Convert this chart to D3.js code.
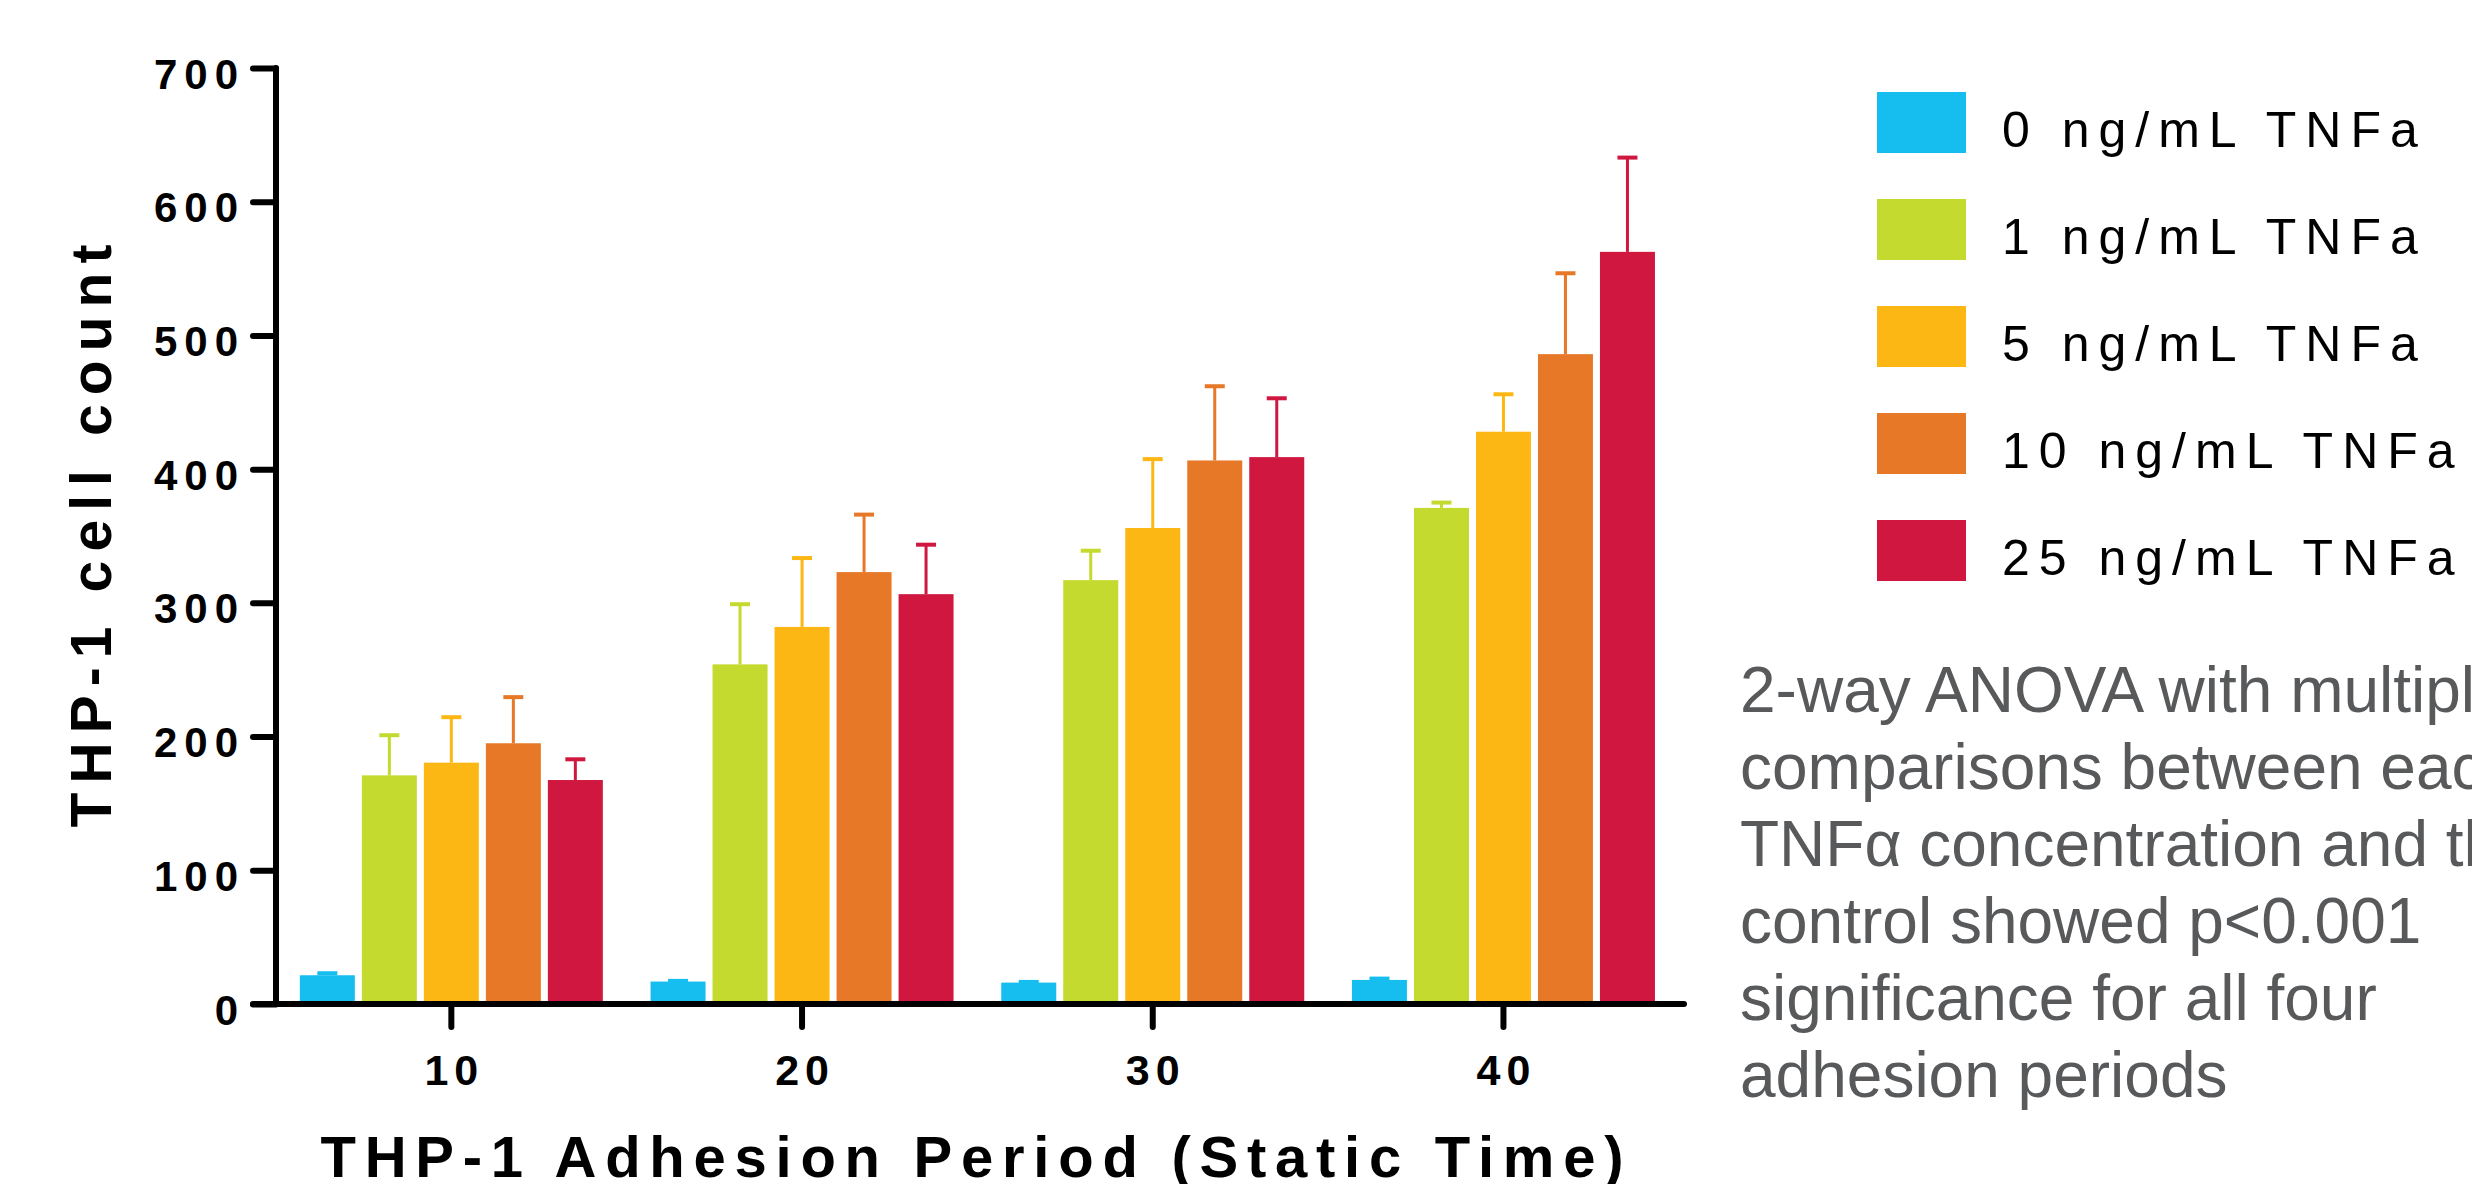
<!DOCTYPE html>
<html>
<head>
<meta charset="utf-8">
<script src="https://cdn.jsdelivr.net/npm/d3@7/dist/d3.min.js"></script>
<style>
  html, body { margin: 0; padding: 0; background: #ffffff; }
  svg { display: block; font-family: "Liberation Sans", Arial, Helvetica, sans-serif; }
</style>
</head>
<body>
<svg id="chart" width="2472" height="1184"></svg>
<script>
// Adhesion periods (x categories) and TNFa doses (series)
const periods = ["10", "20", "30", "40"];
const doses = ["0 ng/mL TNFa", "1 ng/mL TNFa", "5 ng/mL TNFa", "10 ng/mL TNFa", "25 ng/mL TNFa"];
const doseColors = ["#16bef0", "#c4da2e", "#fdb714", "#e67828", "#cf173f"];

// Mean THP-1 cell counts per dose, one value per adhesion period
const dose0 = [21.5, 16.8, 16, 18];
const dose1 = [171, 254, 317, 371];
const dose5 = [180.5, 282, 356, 428];
const dose10 = [195, 323, 406.5, 486];
const dose25 = [167.5, 306.5, 409, 562.5];

// Upper error bar lengths per dose
const err0 = [1.5, 0.5, 0.5, 1];
const err1 = [30, 45, 22, 4];
const err5 = [34, 51.5, 51.5, 28];
const err10 = [34.5, 43, 55.5, 60.5];
const err25 = [15.5, 37, 44, 70.5];

const yTicks = [0, 100, 200, 300, 400, 500, 600, 700];

const noteLines = [
  "2-way ANOVA with multiple",
  "comparisons between each",
  "TNF\u03b1 concentration and the",
  "control showed p<0.001",
  "significance for all four",
  "adhesion periods"
];

const means = [dose0, dose1, dose5, dose10, dose25];
const errs = [err0, err1, err5, err10, err25];

const rows = [];
periods.forEach((p, pi) => {
  doses.forEach((d, di) => {
    rows.push({ period: p, dose: d, color: doseColors[di], mean: means[di][pi], err: errs[di][pi] });
  });
});

const svg = d3.select("#chart");

const axisX0 = 276;
const y = d3.scaleLinear().domain([0, 700]).range([1004, 68]);
const x = d3.scaleBand().domain(periods).range([axisX0, axisX0 + 4 * 350.7]);
const xInner = d3.scaleBand().domain(doses).range([-151.5, 151.5]).paddingInner(0.113);

// Bars
const bars = svg.append("g");
bars.selectAll("rect")
  .data(rows)
  .join("rect")
  .attr("x", d => x(d.period) + x.bandwidth() / 2 + xInner(d.dose))
  .attr("width", xInner.bandwidth())
  .attr("y", d => y(d.mean))
  .attr("height", d => y(0) - y(d.mean))
  .attr("fill", d => d.color);

// Error bars (upper only)
const eb = svg.append("g");
const cx = d => x(d.period) + x.bandwidth() / 2 + xInner(d.dose) + xInner.bandwidth() / 2;
eb.selectAll("line.stem")
  .data(rows)
  .join("line")
  .attr("class", "stem")
  .attr("x1", cx).attr("x2", cx)
  .attr("y1", d => y(d.mean))
  .attr("y2", d => y(d.mean + d.err))
  .attr("stroke", d => d.color)
  .attr("stroke-width", 3);
eb.selectAll("line.cap")
  .data(rows)
  .join("line")
  .attr("class", "cap")
  .attr("x1", d => cx(d) - 10).attr("x2", d => cx(d) + 10)
  .attr("y1", d => y(d.mean + d.err))
  .attr("y2", d => y(d.mean + d.err))
  .attr("stroke", d => d.color)
  .attr("stroke-width", 4);

// Y axis
const yAxis = svg.append("g")
  .attr("transform", `translate(${axisX0},0)`)
  .call(d3.axisLeft(y).tickValues(yTicks).tickSize(23).tickSizeOuter(0).tickFormat(d => String(d)));
yAxis.select(".domain").remove();
yAxis.selectAll(".tick line").attr("stroke", "#000").attr("stroke-width", 6).attr("stroke-linecap", "round");
yAxis.selectAll(".tick text")
  .attr("x", -31)
  .attr("dy", 20)
  .attr("fill", "#000")
  .style("font-size", "42px")
  .style("font-weight", "bold")
  .style("letter-spacing", "7px")
  .style("font-family", "'Liberation Sans', Arial, sans-serif");
svg.append("line")
  .attr("x1", axisX0).attr("x2", axisX0)
  .attr("y1", y(0)).attr("y2", y(700))
  .attr("stroke", "#000").attr("stroke-width", 6).attr("stroke-linecap", "round");

// X axis
const xAxis = svg.append("g")
  .attr("transform", `translate(0,${y(0)})`)
  .call(d3.axisBottom(x).tickSize(23).tickSizeOuter(0));
xAxis.select(".domain").remove();
xAxis.selectAll(".tick line").attr("stroke", "#000").attr("stroke-width", 6).attr("stroke-linecap", "round");
xAxis.selectAll(".tick text")
  .attr("y", 81)
  .attr("dy", 0)
  .attr("dx", 3)
  .attr("fill", "#000")
  .style("font-size", "43px")
  .style("font-weight", "bold")
  .style("letter-spacing", "6px")
  .style("font-family", "'Liberation Sans', Arial, sans-serif");
svg.append("line")
  .attr("x1", axisX0 - 23).attr("x2", 1684)
  .attr("y1", y(0)).attr("y2", y(0))
  .attr("stroke", "#000").attr("stroke-width", 6).attr("stroke-linecap", "round");

// Axis titles
svg.append("text")
  .attr("transform", "translate(111,536) rotate(-90)")
  .attr("text-anchor", "middle")
  .attr("textLength", 583)
  .attr("lengthAdjust", "spacing")
  .style("font-size", "57px")
  .style("font-weight", "bold")
  .attr("fill", "#000")
  .text("THP-1 cell count");

svg.append("text")
  .attr("x", 972)
  .attr("y", 1177)
  .attr("text-anchor", "middle")
  .attr("textLength", 1303)
  .attr("lengthAdjust", "spacing")
  .style("font-size", "58px")
  .style("font-weight", "bold")
  .attr("fill", "#000")
  .text("THP-1 Adhesion Period (Static Time)");

// Legend
const legend = svg.append("g");
const legendRow = d3.scaleBand().domain(doses).range([92, 92 + 5 * 107]);
const items = legend.selectAll("g").data(doses).join("g")
  .attr("transform", d => `translate(1877,${legendRow(d)})`);
items.append("rect")
  .attr("width", 89).attr("height", 61)
  .attr("fill", (d, i) => doseColors[i]);
items.append("text")
  .attr("x", 125)
  .attr("y", 55)
  .attr("fill", "#000")
  .style("font-size", "50px")
  .style("letter-spacing", "9px")
  .text(d => d);

// Statistics note
const note = svg.append("text")
  .attr("x", 1740)
  .attr("y", 712)
  .attr("fill", "#58595b")
  .style("font-size", "64px");
note.selectAll("tspan").data(noteLines).join("tspan")
  .attr("x", 1740)
  .attr("dy", (d, i) => i === 0 ? 0 : 77)
  .text(d => d);
</script>
</body>
</html>
